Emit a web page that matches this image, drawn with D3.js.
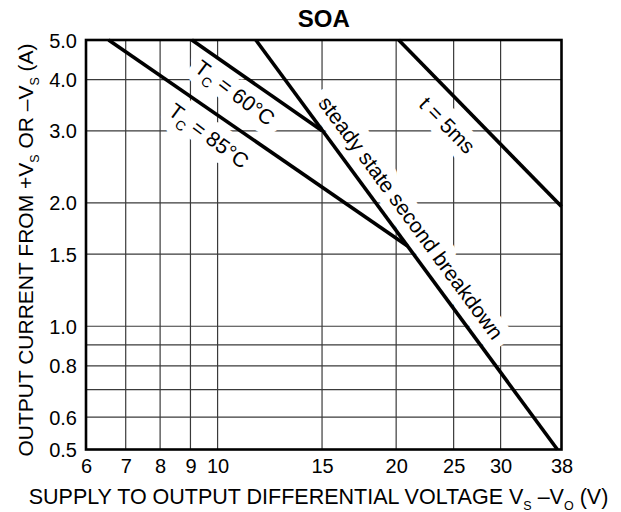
<!DOCTYPE html>
<html>
<head>
<meta charset="utf-8">
<script src="https://cdn.jsdelivr.net/npm/d3@7/dist/d3.min.js"></script>
<style>
  html, body { margin: 0; padding: 0; background: #fff; }
  svg { display: block; }
  text { font-family: "Liberation Sans", Arial, Helvetica, sans-serif; fill: #000; }
</style>
</head>
<body>
<div id="chart"></div>
<script>
// ---- data ----
const xTickValues = [6, 7, 8, 9, 10, 15, 20, 25, 30, 38];
const xTickLabels = ["6", "7", "8", "9", "10", "15", "20", "25", "30", "38"];
const yTickValues = [5.0, 4.0, 3.0, 2.0, 1.5, 1.0, 0.8, 0.6, 0.5];
const yTickLabels = ["5.0", "4.0", "3.0", "2.0", "1.5", "1.0", "0.8", "0.6", "0.5"];
const xGridValues = [7, 8, 9, 10, 15, 20, 25, 30];
const yGridValues = [4, 3, 2, 1.5, 1, 0.9, 0.8, 0.7, 0.6];

// each curve: voltage (V) and current (A) endpoints
const tc85V = [6.55, 20.9];
const tc85I = [5.0, 1.57];
const tc60V = [9.05, 15.0];
const tc60I = [5.0, 3.0];
const steadyV = [11.6, 37.4];
const steadyI = [5.0, 0.5];
const t5msV = [20.2, 38.0];
const t5msI = [5.0, 1.96];

// ---- layout ----
const W = 621, H = 512;
const mLeft = 86, mRight = 561.5, mTop = 40, mBottom = 449.5;

const svg = d3.select("#chart").append("svg")
  .attr("width", W).attr("height", H);

const x = d3.scaleLog().domain([6, 38]).range([mLeft, mRight]);
const y = d3.scaleLog().domain([0.5, 5]).range([mBottom, mTop]);

// grid
const gridColor = "#3a3a3a";
svg.append("g").selectAll("line").data(xGridValues).join("line")
  .attr("x1", d => x(d)).attr("x2", d => x(d))
  .attr("y1", mTop).attr("y2", mBottom)
  .attr("stroke", gridColor).attr("stroke-width", 1.2);
svg.append("g").selectAll("line").data(yGridValues).join("line")
  .attr("y1", d => y(d)).attr("y2", d => y(d))
  .attr("x1", mLeft).attr("x2", mRight)
  .attr("stroke", gridColor).attr("stroke-width", 1.2);

// curve data
const curves = [
  { name: "tc85", V: tc85V, I: tc85I },
  { name: "tc60", V: tc60V, I: tc60I },
  { name: "steady", V: steadyV, I: steadyI },
  { name: "t5ms", V: t5msV, I: t5msI }
];
function angleOf(c) {
  const dx = x(c.V[1]) - x(c.V[0]);
  const dy = y(c.I[1]) - y(c.I[0]);
  return Math.atan2(dy, dx) * 180 / Math.PI;
}

// labels (drawn with white halo over the grid, below curves)
const labels = [
  { curve: 1, V: 10.7, I: 3.72, parts: [["T", 0], ["C", 1], [" = 60°C", 0]], rot: 2 },
  { curve: 0, V: 9.67, I: 2.92, parts: [["T", 0], ["C", 1], [" = 85°C", 0]], rot: 2 },
  { curve: 2, V: 21.2, I: 1.84, parts: [["steady state second breakdown", 0]], rot: 0 },
  { curve: 3, V: 24.4, I: 3.10, parts: [["t = 5ms", 0]], rot: 0 }
];
const labelLayer = svg.append("g");
labels.forEach(l => {
  const a = angleOf(curves[l.curve]) + l.rot;
  const g = labelLayer.append("g")
    .attr("transform", `translate(${x(l.V)},${y(l.I)}) rotate(${a})`);
  [true, false].forEach(halo => {
    const t = g.append("text")
      .attr("text-anchor", "middle")
      .attr("y", 7.5)
      .attr("font-size", 21);
    if (halo) {
      t.attr("stroke", "#fff").attr("stroke-width", 20)
       .attr("stroke-linejoin", "round").style("fill", "#fff");
    }
    l.parts.forEach((p, i) => {
      const ts = t.append("tspan").text(p[0]);
      if (p[1] === 1) ts.attr("font-size", 13.5).attr("dy", 6);
      else if (i > 0) ts.attr("dy", -6);
    });
  });
});

// curves
const line = d3.line().x(d => x(d[0])).y(d => y(d[1]));
svg.append("g").selectAll("path").data(curves).join("path")
  .attr("d", c => line(c.V.map((v, i) => [v, c.I[i]])))
  .attr("fill", "none").attr("stroke", "#000").attr("stroke-width", 3.6)
  .attr("stroke-linecap", "butt");

// frame
svg.append("rect")
  .attr("x", mLeft).attr("y", mTop)
  .attr("width", mRight - mLeft).attr("height", mBottom - mTop)
  .attr("fill", "none").attr("stroke", "#000").attr("stroke-width", 2.6);

// axes (labels only)
const xAxis = d3.axisBottom(x).tickValues(xTickValues)
  .tickFormat((d, i) => xTickLabels[i]).tickSize(0).tickPadding(0);
const gx = svg.append("g").attr("transform", `translate(0,${mBottom})`).call(xAxis);
gx.select(".domain").remove();
gx.selectAll("text").attr("font-size", 20).attr("dy", null).attr("y", 23.5)
  .style("font-family", '"Liberation Sans", Arial, sans-serif');

const yAxis = d3.axisLeft(y).tickValues(yTickValues)
  .tickFormat((d, i) => yTickLabels[i]).tickSize(0).tickPadding(0);
const gy = svg.append("g").attr("transform", `translate(${mLeft - 9},0)`).call(yAxis);
gy.select(".domain").remove();
gy.selectAll("text").attr("font-size", 20).attr("x", 0).attr("dy", "0.35em")
  .style("font-family", '"Liberation Sans", Arial, sans-serif');

// title
svg.append("text").attr("x", (mLeft + mRight) / 2).attr("y", 26.7)
  .attr("text-anchor", "middle").attr("font-size", 24).attr("font-weight", "bold")
  .text("SOA");

// x axis title
const xt = svg.append("text").attr("x", 318.5).attr("y", 503.5)
  .attr("text-anchor", "middle").attr("font-size", 21.5);
xt.append("tspan").text("SUPPLY TO OUTPUT DIFFERENTIAL VOLTAGE V");
xt.append("tspan").text("S").attr("font-size", 12.5).attr("dy", 6);
xt.append("tspan").text(" –V").attr("dy", -6);
xt.append("tspan").text("O").attr("font-size", 12.5).attr("dy", 6);
xt.append("tspan").text(" (V)").attr("dy", -6);

// y axis title
const yt = svg.append("text")
  .attr("transform", `translate(33,250) rotate(-90)`)
  .attr("text-anchor", "middle").attr("font-size", 21);
yt.append("tspan").text("OUTPUT CURRENT FROM +V");
yt.append("tspan").text("S").attr("font-size", 12.5).attr("dy", 6);
yt.append("tspan").text(" OR –V").attr("dy", -6);
yt.append("tspan").text("S").attr("font-size", 12.5).attr("dy", 6);
yt.append("tspan").text(" (A)").attr("dy", -6);
</script>
</body>
</html>
